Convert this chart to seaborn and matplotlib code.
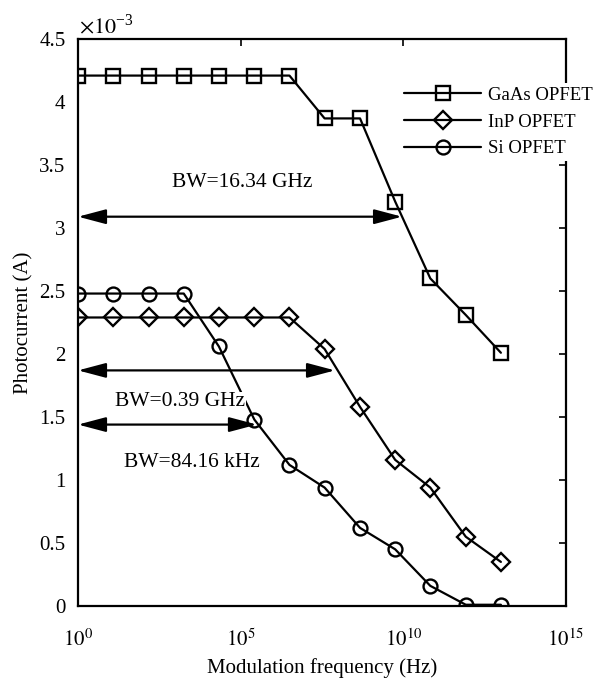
import numpy as np
import pandas as pd
import seaborn as sns
import matplotlib.pyplot as plt

# Modulation frequency points (log10 of Hz), shared by all three devices
log_freq = [0, 1.08, 2.17, 3.25, 4.33, 5.42, 6.5, 7.58, 8.67, 9.75, 10.83, 11.92, 13.0]

# Photocurrent in units of 1e-3 A
gaas = [4.21, 4.21, 4.21, 4.21, 4.21, 4.21, 4.21, 3.87, 3.87, 3.21, 2.60, 2.31, 2.01]
inp = [2.29, 2.29, 2.29, 2.29, 2.29, 2.29, 2.29, 2.04, 1.58, 1.16, 0.94, 0.55, 0.35]
si = [2.48, 2.48, 2.48, 2.48, 2.06, 1.48, 1.12, 0.94, 0.62, 0.45, 0.16, 0.01, 0.01]

series_names = ['GaAs OPFET', 'InP OPFET', 'Si OPFET']
series_markers = ['s', 'D', 'o']

# bandwidth annotations: label, arrow y, arrow end (log10 Hz), text x (log10 Hz), text y
bw_labels = ['BW=16.34 GHz', 'BW=0.39 GHz', 'BW=84.16 kHz']
bw_arrow_y = [3.09, 1.87, 1.44]
bw_arrow_end = [9.96, 7.9, 5.5]
bw_text_x = [5.05, 3.14, 3.5]
bw_text_y = [3.36, 1.62, 1.14]

freq = [10 ** v for v in log_freq]

sns.set_style('white')
plt.rcParams['font.family'] = ['Liberation Serif', 'DejaVu Serif']
plt.rcParams['mathtext.fontset'] = 'stix'
plt.rcParams['text.color'] = 'black'
plt.rcParams['axes.labelcolor'] = 'black'

fig = plt.figure(figsize=(5.97, 6.79), dpi=100)
ax = fig.add_axes([0.1307, 0.1075, 0.8173, 0.835])

for name, vals, mk in zip(series_names, [gaas, inp, si], series_markers):
    sns.lineplot(x=freq, y=vals, ax=ax, color='black', linewidth=1.6,
                 marker=mk, markersize=10 if mk != 'D' else 9,
                 mfc='none', mec='black', mew=1.7, label=name, zorder=3)

ax.set_xscale('log')
ax.set_xlim(1, 1e15)
ax.set_ylim(0, 4.5)
ax.set_xticks([1, 1e5, 1e10, 1e15])
ax.xaxis.set_minor_locator(plt.NullLocator())
ax.set_yticks(np.arange(0, 4.51, 0.5))
ax.set_yticklabels(['0', '0.5', '1', '1.5', '2', '2.5', '3', '3.5', '4', '4.5'])
ax.set_xticklabels(['$10^{0}$', '$10^{5}$', '$10^{10}$', '$10^{15}$'])
ax.tick_params(axis='y', pad=9)
ax.tick_params(axis='x', pad=17)
ax.tick_params(direction='in', length=5, width=1.2, top=True, right=True,
               labelsize=15, colors='black')
for sp in ax.spines.values():
    sp.set_linewidth(1.6)
    sp.set_color('black')

ax.set_xlabel('Modulation frequency (Hz)', fontsize=15, labelpad=5)
ax.set_ylabel('Photocurrent (A)', fontsize=15, labelpad=4)
ax.text(0.003, 1.01, r'$\times 10^{\mathregular{-3}}$', transform=ax.transAxes,
        fontsize=16, ha='left', va='baseline')

for lab, ay, aend, tx, ty in zip(bw_labels, bw_arrow_y, bw_arrow_end, bw_text_x, bw_text_y):
    ax.annotate('', xy=(10 ** aend, ay), xytext=(1, ay),
                arrowprops=dict(arrowstyle='<|-|>,head_length=1.7,head_width=0.45',
                                color='black', lw=1.6, shrinkA=0, shrinkB=0),
                zorder=4)
    ax.text(10 ** tx, ty, lab, fontsize=15.5, ha='center', va='center', zorder=3.5,
            bbox=dict(facecolor='white', edgecolor='none', pad=0.5))

leg = ax.legend(loc='upper right', bbox_to_anchor=(1.0, 0.878), bbox_transform=fig.transFigure,
                fontsize=13.5, frameon=True, fancybox=False, handlelength=4.1,
                handletextpad=0.4, labelspacing=0.52, borderaxespad=0, borderpad=0.2)
leg.get_frame().set_edgecolor('none')
leg.get_frame().set_facecolor('white')
leg.get_frame().set_alpha(1)

fig.savefig('out.png', dpi=100)
